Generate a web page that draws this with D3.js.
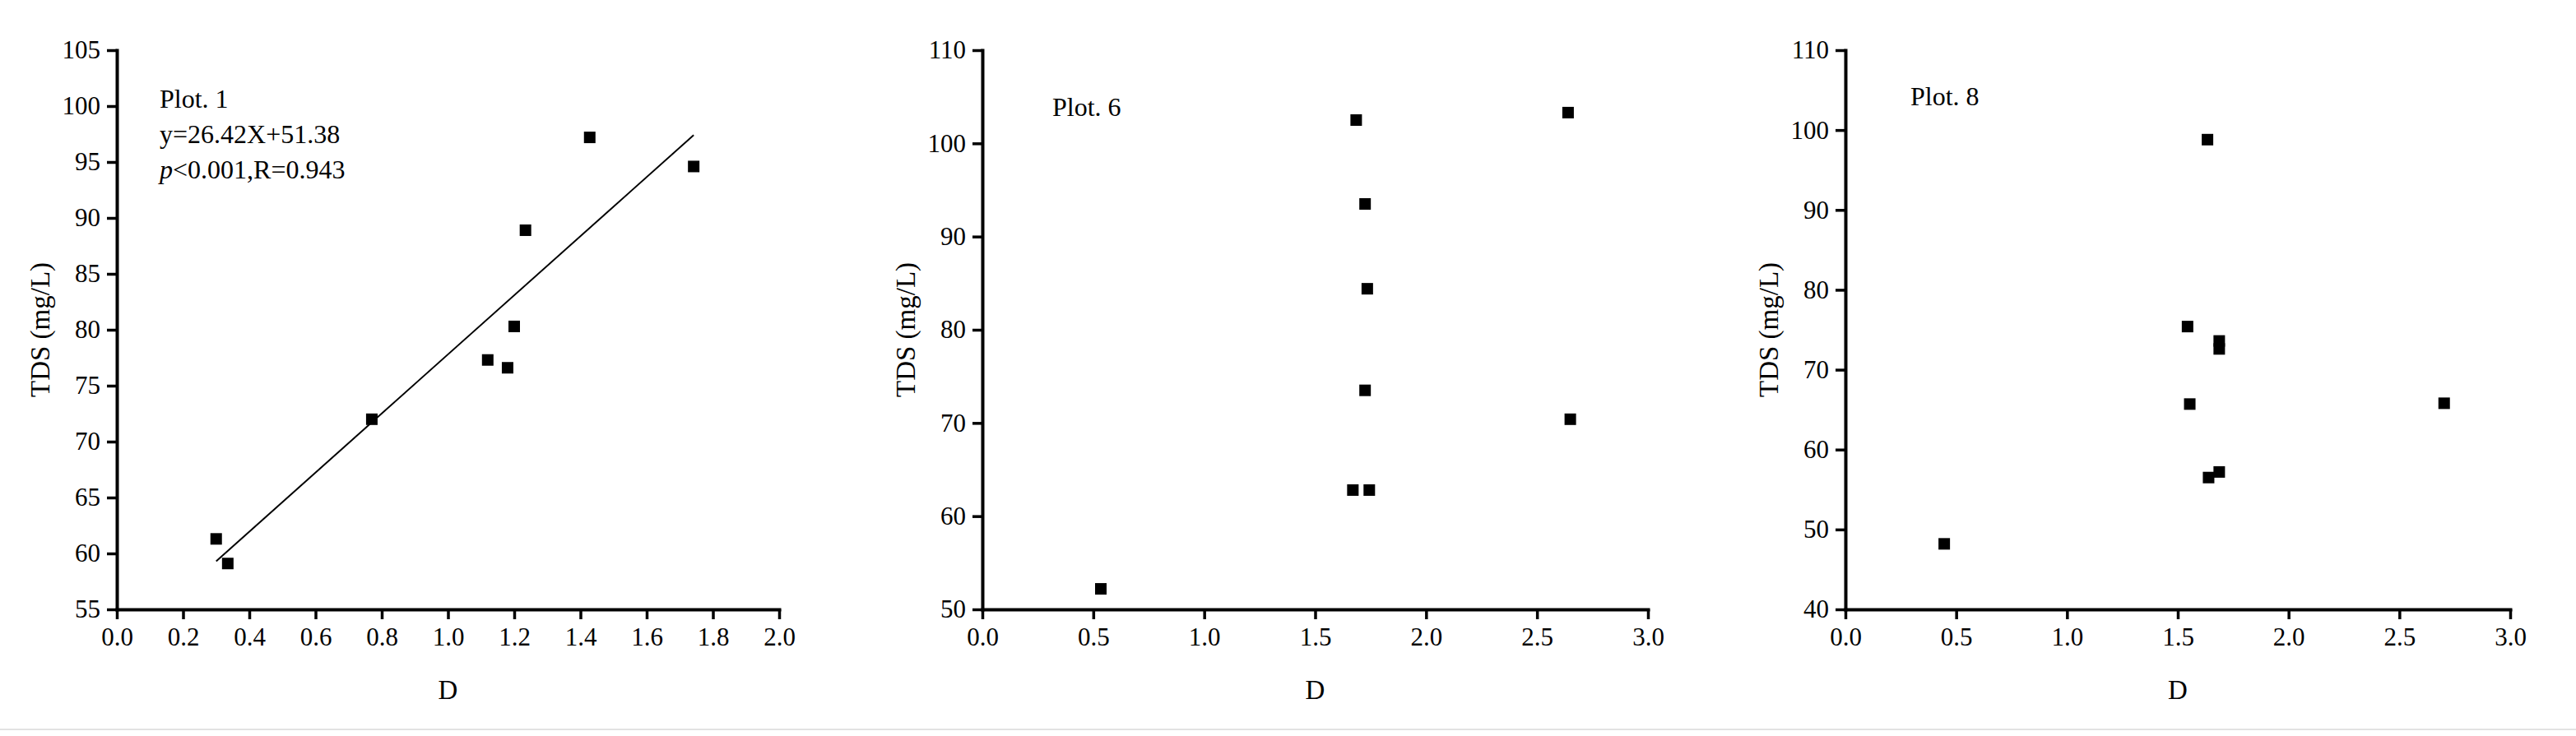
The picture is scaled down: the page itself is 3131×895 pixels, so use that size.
<!DOCTYPE html>
<html lang="en">
<head>
    <meta charset="UTF-8">
    <title>TDS vs D</title>
    <script src="https://d3js.org/d3.v7.min.js"></script>
    <style>
        body { margin: 0; background: #fff; }
        text { font-family: "Liberation Serif", "Times New Roman", serif; fill: #000; }
    </style>
</head>
<body>
    <div id="chart"></div>

    <script type="text/javascript">
        // Plot 1 data (with fitted line)
        var plot1D   = [0.30, 0.335, 0.77, 1.12, 1.18, 1.20, 1.234, 1.428, 1.742];
        var plot1TDS = [61.3, 59.1, 72.0, 77.3, 76.6, 80.3, 88.9, 97.2, 94.6];
        var plot1Fit = { slope: 26.42, intercept: 51.38 };

        // Plot 6 data
        var plot6D   = [0.534, 1.685, 1.725, 1.735, 1.725, 1.67, 1.744, 2.64, 2.65];
        var plot6TDS = [52.2, 102.5, 93.5, 84.4, 73.5, 62.8, 62.8, 103.3, 70.4];

        // Plot 8 data
        var plot8D   = [0.446, 1.634, 1.544, 1.687, 1.687, 1.554, 2.702, 1.639, 1.687];
        var plot8TDS = [48.2, 98.8, 75.4, 73.6, 72.6, 65.7, 65.8, 56.5, 57.2];

        // tick labels
        var ticksX1 = [0, 0.2, 0.4, 0.6, 0.8, 1.0, 1.2, 1.4, 1.6, 1.8, 2.0];
        var ticksY1 = [55, 60, 65, 70, 75, 80, 85, 90, 95, 100, 105];
        var ticksX3 = [0, 0.5, 1.0, 1.5, 2.0, 2.5, 3.0];
        var ticksY6 = [50, 60, 70, 80, 90, 100, 110];
        var ticksY8 = [40, 50, 60, 70, 80, 90, 100, 110];

        var width = 3131, height = 895;
        var plotTop = 61, plotBottom = 741;

        var svg = d3.select("#chart").append("svg")
            .attr("width", width)
            .attr("height", height);

        // faint line along the bottom of the figure
        svg.append("line")
            .attr("x1", 0).attr("x2", width)
            .attr("y1", 887).attr("y2", 887)
            .attr("stroke", "#e2e2e2")
            .attr("stroke-width", 2);

        var panels = [
            { left: 142, right: 947, xs: plot1D, ys: plot1TDS, xTicks: ticksX1, yTicks: ticksY1,
              label: ["Plot. 1", "y=26.42X+51.38", "p"], labelX: 194, labelY: 131, fit: plot1Fit },
            { left: 1194, right: 2003, xs: plot6D, ys: plot6TDS, xTicks: ticksX3, yTicks: ticksY6,
              label: ["Plot. 6"], labelX: 1279, labelY: 141 },
            { left: 2243, right: 3051, xs: plot8D, ys: plot8TDS, xTicks: ticksX3, yTicks: ticksY8,
              label: ["Plot. 8"], labelX: 2322, labelY: 128 }
        ];

        panels.forEach(function(p) {
            var x = d3.scaleLinear()
                .domain([p.xTicks[0], p.xTicks[p.xTicks.length - 1]])
                .range([p.left, p.right]);
            var y = d3.scaleLinear()
                .domain([p.yTicks[0], p.yTicks[p.yTicks.length - 1]])
                .range([plotBottom, plotTop]);

            var g = svg.append("g");

            // x axis
            var gx = g.append("g")
                .attr("transform", "translate(0," + plotBottom + ")")
                .call(d3.axisBottom(x)
                    .tickValues(p.xTicks)
                    .tickFormat(d3.format(".1f"))
                    .tickSize(12)
                    .tickSizeOuter(0)
                    .tickPadding(10));

            // y axis
            var gy = g.append("g")
                .attr("transform", "translate(" + p.left + ",0)")
                .call(d3.axisLeft(y)
                    .tickValues(p.yTicks)
                    .tickFormat(d3.format("d"))
                    .tickSize(12)
                    .tickSizeOuter(0)
                    .tickPadding(8));

            [gx, gy].forEach(function(a) {
                a.select(".domain").attr("stroke", "#000").attr("stroke-width", 4).attr("stroke-linecap", "square");
                a.selectAll(".tick line").attr("stroke", "#000").attr("stroke-width", 3.5);
                a.selectAll(".tick text")
                    .style("font-family", "'Liberation Serif', 'Times New Roman', serif")
                    .style("font-size", "31px")
                    .attr("fill", "#000");
            });

            // axis titles
            g.append("text")
                .attr("transform", "translate(" + (p.left - 94) + "," + ((plotTop + plotBottom) / 2) + ") rotate(-90)")
                .attr("text-anchor", "middle")
                .attr("dy", "0.35em")
                .style("font-size", "33px")
                .text("TDS (mg/L)");

            g.append("text")
                .attr("x", (p.left + p.right) / 2)
                .attr("y", 850)
                .attr("text-anchor", "middle")
                .style("font-size", "33px")
                .text("D");

            // fitted line
            if (p.fit) {
                var ext = d3.extent(p.xs);
                var line = d3.line()
                    .x(function(d) { return x(d); })
                    .y(function(d) { return y(p.fit.slope * d + p.fit.intercept); });
                g.append("path")
                    .attr("d", line(ext))
                    .attr("fill", "none")
                    .attr("stroke", "#000")
                    .attr("stroke-width", 2);
            }

            // points
            var pts = d3.zip(p.xs, p.ys);
            g.selectAll("rect.pt")
                .data(pts)
                .enter()
                .append("rect")
                .attr("class", "pt")
                .attr("x", function(d) { return x(d[0]) - 7; })
                .attr("y", function(d) { return y(d[1]) - 7; })
                .attr("width", 14)
                .attr("height", 14)
                .attr("fill", "#000");

            // annotation
            var t = g.append("text")
                .attr("x", p.labelX)
                .attr("y", p.labelY)
                .style("font-size", "32px");
            t.append("tspan").attr("x", p.labelX).text(p.label[0]);
            if (p.label.length > 1) {
                t.append("tspan").attr("x", p.labelX).attr("dy", 43).text(p.label[1]);
                t.append("tspan").attr("x", p.labelX).attr("dy", 43)
                    .style("font-style", "italic").text("p");
                t.append("tspan").text("<0.001,R=0.943");
            }
        });
    </script>
</body>
</html>
